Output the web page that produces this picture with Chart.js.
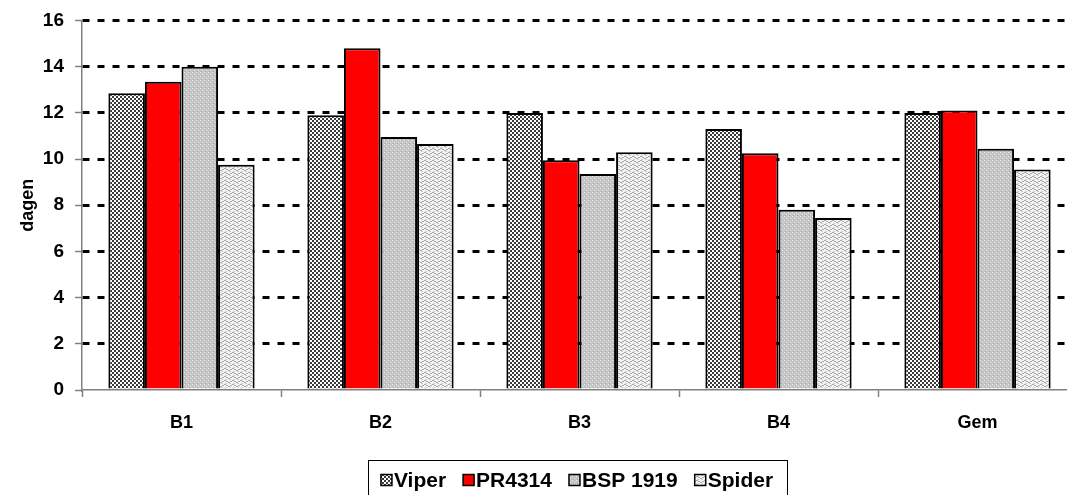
<!DOCTYPE html>
<html>
<head>
<meta charset="utf-8">
<script src="https://cdn.jsdelivr.net/npm/chart.js@4"></script>
<style>
  html, body { margin: 0; padding: 0; background: #fff; overflow: hidden; }
  #wrap { width: 1100px; height: 495px; }
</style>
</head>
<body>
<div id="wrap"><canvas id="myChart"></canvas></div>
<script>
const categories = ["B1", "B2", "B3", "B4", "Gem"];
const seriesNames = ["Viper", "PR4314", "BSP 1919", "Spider"];
const viper = [12.85, 11.9, 12.0, 11.3, 12.0];
const pr4314 = [13.35, 14.8, 9.95, 10.25, 12.1];
const bsp1919 = [14.0, 10.95, 9.35, 7.8, 10.45];
const spider = [9.75, 10.65, 10.3, 7.45, 9.55];

// small tile patterns that imitate the old office hatch fills
function makePattern(w, h, draw) {
  const c = document.createElement("canvas");
  c.width = w;
  c.height = h;
  const g = c.getContext("2d");
  draw(g);
  return g.createPattern(c, "repeat");
}

const checker = makePattern(4, 4, g => {
  g.fillStyle = "#fff";
  g.fillRect(0, 0, 4, 4);
  g.fillStyle = "#3a3a3a";
  g.fillRect(0, 0, 2, 2);
  g.fillRect(2, 2, 2, 2);
});

const dotted = makePattern(4, 4, g => {
  g.fillStyle = "#c4c4c4";
  g.fillRect(0, 0, 4, 4);
  g.fillStyle = "#ececec";
  g.fillRect(0, 0, 1, 1);
  g.fillRect(2, 2, 1, 1);
  g.fillStyle = "#a8a8a8";
  g.fillRect(1, 3, 1, 1);
});

const wavy = makePattern(8, 4, g => {
  g.fillStyle = "#f4f4f4";
  g.fillRect(0, 0, 8, 4);
  g.fillStyle = "#a9a9a9";
  g.fillRect(0, 0, 2, 1);
  g.fillRect(2, 1, 2, 1);
  g.fillRect(4, 2, 2, 1);
  g.fillRect(6, 1, 2, 1);
  g.fillStyle = "#d0d0d0";
  g.fillRect(1, 3, 2, 1);
  g.fillRect(5, 3, 2, 1);
});

const fills = [checker, "#ff0000", dotted, wavy];
const values = [viper, pr4314, bsp1919, spider];
const font = "'Liberation Sans', Arial, sans-serif";

// legend with a frame round it, placed like the original one
const boxedLegend = {
  id: "boxedLegend",
  afterDraw(chart) {
    const ctx = chart.ctx;
    ctx.save();
    ctx.font = "bold 21px " + font;
    ctx.textBaseline = "middle";
    const sw = 11, gapAfterSwatch = 2, gapItems = 17;
    let total = 0;
    const widths = chart.data.datasets.map(d => ctx.measureText(d.label).width);
    widths.forEach(w => total += sw + gapAfterSwatch + w);
    total += gapItems * (widths.length - 1);
    const cx = 577, cy = 480;
    const boxL = 368, boxR = 787, boxT = 460, boxB = 500;
    ctx.strokeStyle = "#000";
    ctx.lineWidth = 1;
    ctx.strokeRect(boxL + 0.5, boxT + 0.5, boxR - boxL, boxB - boxT);
    let x = cx - total / 2;
    chart.data.datasets.forEach((d, i) => {
      ctx.fillStyle = d.backgroundColor;
      ctx.fillRect(x, cy - sw / 2, sw, sw);
      ctx.lineWidth = 1.5;
      ctx.strokeRect(x, cy - sw / 2, sw, sw);
      x += sw + gapAfterSwatch;
      ctx.fillStyle = "#000";
      ctx.fillText(d.label, x, cy + 1);
      x += widths[i] + gapItems;
    });
    ctx.restore();
  }
};

const ctx = document.getElementById("myChart");

let chart = new Chart(ctx, {
  type: "bar",
  data: {
    labels: categories,
    datasets: seriesNames.map((name, i) => ({
      label: name,
      data: values[i],
      backgroundColor: fills[i],
      borderColor: "#000",
      borderWidth: 2,
      borderSkipped: "bottom",
    })),
  },
  options: {
    responsive: true,
    maintainAspectRatio: false,
    animation: false,
    devicePixelRatio: 1,
    categoryPercentage: 0.735,
    barPercentage: 1.0,
    layout: { padding: { left: 0, right: 23, top: 20, bottom: 60 } },
    plugins: {
      legend: { display: false },
      tooltip: { enabled: false },
    },
    scales: {
      x: {
        afterFit: s => { s.height = 45; },
        border: { color: "#808080", width: 1.5 },
        grid: {
          drawOnChartArea: false,
          offset: true,
          tickLength: 7,
          tickColor: "#808080",
          tickWidth: 1.5,
        },
        ticks: {
          color: "#000",
          padding: 15,
          font: { family: font, size: 18, weight: "bold" },
        },
      },
      y: {
        min: 0,
        max: 16,
        afterFit: s => { s.width = 82; },
        border: { color: "#808080", width: 1.5, dash: [7, 8] },
        grid: {
          color: c => (c.tick && c.tick.value === 0 ? "rgba(0,0,0,0)" : "#000"),
          lineWidth: 3,
          tickLength: 7,
          tickColor: "#808080",
          tickWidth: 1.5,
          tickBorderDash: [],
        },
        ticks: {
          stepSize: 2,
          color: "#000",
          padding: 11,
          font: { family: font, size: 19, weight: "bold", lineHeight: 1 },
        },
        title: {
          display: true,
          text: "dagen",
          color: "#000",
          padding: { top: 17, bottom: 0 },
          font: { family: font, size: 18, weight: "bold" },
        },
      },
    },
  },
  plugins: [boxedLegend],
});
</script>
</body>
</html>
